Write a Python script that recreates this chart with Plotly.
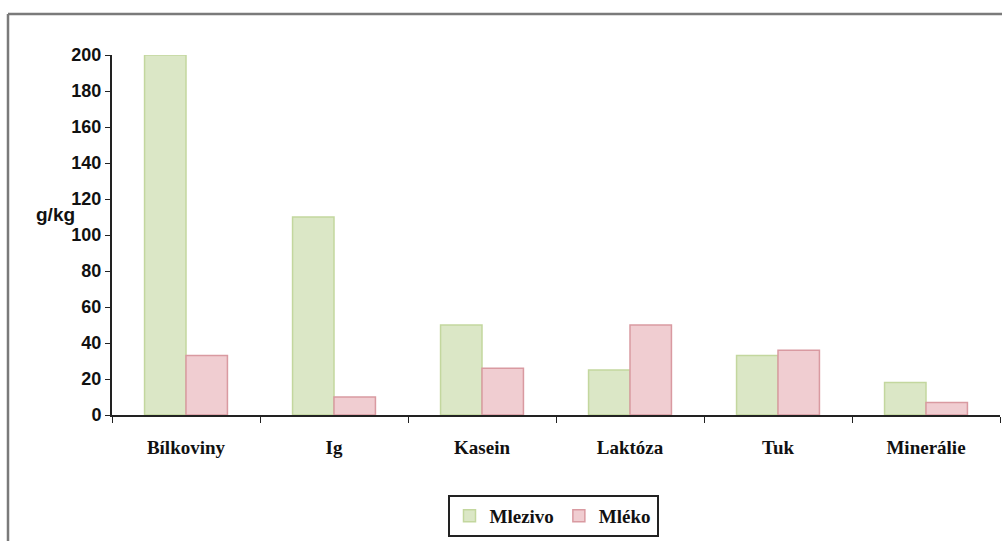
import plotly.graph_objects as go

categories = ["Bílkoviny", "Ig", "Kasein", "Laktóza", "Tuk", "Minerálie"]
mlezivo = [200, 110, 50, 25, 33, 18]
mleko = [33, 10, 26, 50, 36, 7]
y_ticks = [0, 20, 40, 60, 80, 100, 120, 140, 160, 180, 200]

W, H = 1002, 541
L, R, T, B = 112, 2, 55, 126
pw, ph = W - L - R, H - T - B

def px(x):
    return (x - L) / pw

def py(y):
    return (H - B - y) / ph

fig = go.Figure()
fig.add_trace(go.Bar(
    x=categories, y=mlezivo, name="Mlezivo",
    marker=dict(color="#dbe7c6", line=dict(color="#c3d79e", width=1.5)),
))
fig.add_trace(go.Bar(
    x=categories, y=mleko, name="Mléko",
    marker=dict(color="#f0cdd1", line=dict(color="#d99aa1", width=1.5)),
))

# outer frame (top and left edges visible)
frame = dict(type="line", xref="paper", yref="paper",
             line=dict(color="#7a7a7a", width=2.5), layer="above")
fig.add_shape(**frame, x0=px(8), y0=py(14), x1=px(1010), y1=py(14))
fig.add_shape(**frame, x0=px(8), y0=py(14), x1=px(8), y1=py(560))

fig.add_annotation(
    text="g/kg", xref="paper", yref="paper",
    x=px(55), y=py(214), xanchor="center", yanchor="middle", showarrow=False,
    font=dict(family="Liberation Sans", size=19, color="#111111", weight="bold"),
)

fig.update_layout(
    width=W, height=H,
    margin=dict(l=L, r=R, t=T, b=B),
    paper_bgcolor="white", plot_bgcolor="white",
    barmode="group", bargap=0.44, bargroupgap=0,
    showlegend=True,
    legend=dict(
        orientation="h", x=px(553), y=py(516), xanchor="center", yanchor="middle",
        bordercolor="#222222", borderwidth=2, bgcolor="white",
        font=dict(family="Liberation Serif", size=19, color="#111111", weight="bold"),
        itemwidth=30, traceorder="normal",
    ),
    xaxis=dict(
        type="category", tickson="boundaries", ticks="outside", ticklen=6,
        tickcolor="#222222", showline=True, linecolor="#222222", linewidth=2,
        showgrid=False, ticklabelstandoff=14,
        tickfont=dict(family="Liberation Serif", size=19, color="#111111", weight="bold"),
        range=[-0.5, 5.5],
    ),
    yaxis=dict(
        range=[0, 200], tickvals=y_ticks, ticks="outside", ticklen=5,
        tickcolor="#222222", showline=True, linecolor="#222222", linewidth=2,
        showgrid=False, zeroline=False,
        tickfont=dict(family="Liberation Sans", size=18, color="#111111", weight="bold"),
    ),
)

fig.write_html("out.html")
